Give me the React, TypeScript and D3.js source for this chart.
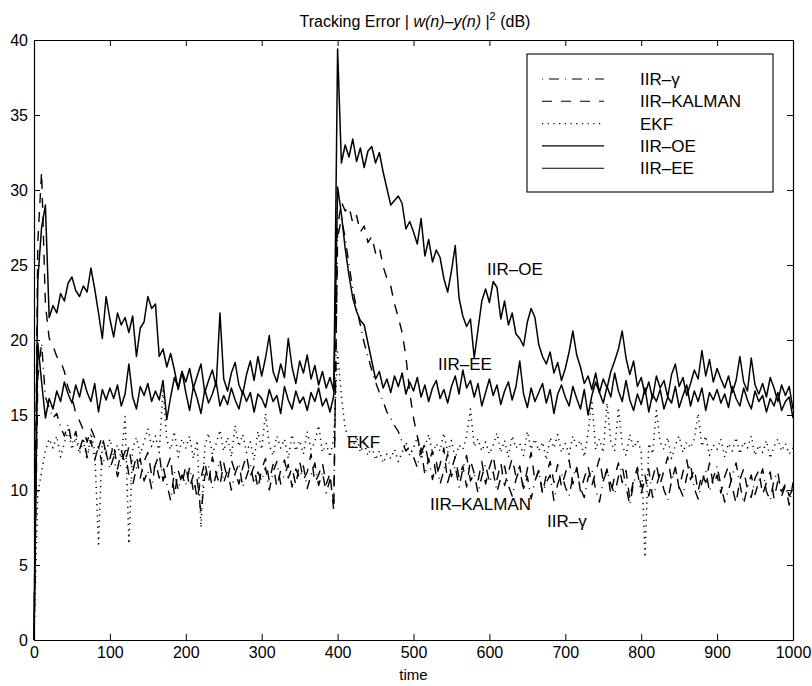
import React, { useEffect, useRef } from 'react';
import * as d3 from 'd3';

// sample times (every 5 steps)
const times = d3.range(0, 1001, 5);
const xTicks = [0, 100, 200, 300, 400, 500, 600, 700, 800, 900, 1000];
const yTicks = [0, 5, 10, 15, 20, 25, 30, 35, 40];

// values, one per sample time
const iirOE = [
  0, 24.0, 27.5, 29.0, 21.5, 22.3, 21.8, 23.1, 22.6, 23.8, 24.2, 23.3, 22.9, 23.6, 23.2, 24.8, 23.4, 21.8, 20.1, 22.9,
  21.4, 20.2, 21.8, 21.0, 21.5, 20.5, 21.6, 18.9, 20.8, 21.2, 22.9, 22.1, 22.4, 18.9, 19.4, 18.2, 19.1, 18.0, 16.7, 17.9,
  17.2, 18.1, 16.8, 17.6, 18.4, 16.5, 17.3, 18.0, 16.9, 21.8, 17.4, 16.6, 17.8, 18.5, 17.0, 16.4, 17.7, 18.6, 17.3, 18.9,
  17.6, 18.8, 20.3, 17.9, 17.2, 18.4, 17.5, 20.1, 18.2, 17.1, 18.6, 17.8, 19.0, 17.4, 18.3, 17.0, 17.9, 16.8, 17.5, 16.6,
  39.4, 31.8, 33.0, 32.2, 33.4, 31.9, 32.8, 31.5, 32.6, 32.9, 31.8, 32.5, 31.2, 30.1, 29.0, 29.3, 29.6, 29.1, 27.4, 27.9,
  27.2, 26.4, 28.1, 25.6, 26.7, 25.2, 26.0, 25.5, 24.1, 23.2, 24.6, 26.3, 22.8, 21.6, 20.9, 21.4, 18.8, 20.7, 22.6, 23.4,
  22.5, 23.9, 23.5, 21.4, 22.6, 21.0, 21.8, 20.4, 20.1, 19.6, 21.2, 22.1, 21.5, 19.7, 18.9, 18.4, 19.2, 17.8, 18.5, 17.3,
  18.1, 19.2, 20.6, 19.0, 18.2, 17.1, 17.6, 16.7, 17.8, 16.5, 17.4, 16.8, 17.9, 18.6, 19.4, 20.6, 18.8, 17.7, 18.6, 16.9,
  17.5, 16.4, 17.2, 16.1, 17.6, 16.8, 17.3, 16.2, 17.7, 18.4, 16.9, 17.5, 16.3, 17.1, 18.0, 17.4, 19.3, 17.6, 18.7, 17.2,
  18.1, 17.4, 16.8, 17.6, 16.5, 17.3, 18.9, 17.2, 16.6, 18.8, 17.0, 16.4, 17.1, 16.2, 17.5, 16.8, 15.9, 17.0, 16.3, 16.9, 15.4,
];

const iirEE = [
  0, 19.8, 17.2, 14.8, 16.1, 15.4, 16.6, 15.9, 17.2, 16.4, 15.8, 17.0, 16.2, 17.4, 16.5, 15.9, 17.1, 15.2, 16.7, 16.0,
  16.8, 16.1, 17.0, 15.6, 16.4, 18.4, 16.2, 15.4, 16.9, 16.3, 17.1, 15.9, 16.6, 16.0, 17.3, 14.7, 16.2, 17.5, 16.8, 17.9,
  16.5, 15.3, 16.9, 16.1, 15.1, 16.7, 15.8, 16.4, 17.2, 15.6, 16.3, 15.7, 16.8, 16.0, 15.4, 16.6, 15.9, 16.5, 15.2, 16.4,
  16.1, 15.5, 16.7, 15.9, 16.3, 15.1, 16.9, 16.0, 15.4, 16.6, 15.8, 16.2, 15.3, 16.5, 15.9, 16.8, 15.6, 16.1, 15.2, 16.3,
  30.2, 28.4, 26.1, 24.3, 22.8, 21.9, 21.3, 21.0, 19.8, 18.6, 17.4, 17.9, 16.8, 17.4, 16.5, 17.6, 16.9, 17.8, 16.4, 17.2,
  16.6, 17.5, 16.2, 17.0, 15.9, 16.8, 17.3, 16.1, 16.7, 15.8, 16.9, 17.6, 16.4, 18.0, 16.8, 17.3, 16.2, 17.1, 15.6, 16.5,
  17.4, 16.3, 17.0, 15.7, 16.6, 17.2, 16.0, 16.9, 18.6, 16.4, 15.5, 16.8, 15.9, 16.5, 17.1, 15.8, 16.7, 15.1, 16.4, 17.0,
  16.2, 15.6, 16.9, 16.1, 15.4, 16.7, 15.0, 16.3, 17.2, 16.5, 15.8, 16.9, 16.2, 17.8, 16.6, 15.9, 17.3, 16.0, 15.3, 16.4,
  15.7, 16.8, 15.2, 16.4, 15.9, 16.7, 15.4, 16.2, 15.8, 16.9, 15.5, 16.3, 17.0, 15.6, 16.6, 15.9, 16.8, 15.3, 16.5, 16.0,
  16.7, 15.8, 16.4, 15.5, 16.9, 16.1, 15.6, 16.8, 16.0, 15.4, 16.6, 15.9, 16.3, 15.2, 16.1, 15.6, 16.5, 15.3, 15.9, 16.2, 14.8,
];

const iirKalman = [
  0, 26.5, 31.2, 22.4, 20.1, 19.6, 18.9, 18.6, 17.9, 16.8, 16.2, 15.1, 14.6, 14.0, 13.2, 14.1, 13.5, 12.8, 13.6, 12.4,
  12.1, 13.0, 11.4, 12.6, 11.8, 12.9, 11.2, 12.3, 10.8, 11.9, 12.5, 11.0, 11.7, 12.4, 10.6, 11.5, 12.2, 9.6, 11.3, 10.4,
  11.6, 10.2, 11.0, 9.4, 10.8, 11.9, 10.5, 12.2, 11.1, 10.3, 11.8, 10.7, 12.0, 11.2, 10.4, 11.5, 12.3, 10.9, 11.6, 10.1,
  11.4, 12.1, 10.6, 11.7, 10.2, 11.3, 12.0, 10.8, 11.5, 10.3, 11.9, 10.7, 11.2, 12.4, 10.5, 11.0, 11.8, 10.4, 11.1, 8.6,
  27.5, 29.2, 28.6, 28.9, 27.8, 28.3, 27.2, 27.6, 26.5, 26.9, 25.8, 26.2, 24.9, 24.1, 23.6, 22.4, 21.5, 20.5, 18.9, 16.5,
  14.8, 13.6, 12.4, 13.1, 11.8, 12.6, 10.9, 11.7, 12.8, 10.5, 11.4, 12.2, 10.8, 11.6, 10.2, 12.0, 11.1, 10.6, 11.9, 10.4,
  11.5, 12.3, 10.7, 11.8, 10.3, 11.2, 12.1, 10.9, 11.6, 10.1, 11.4, 12.5, 10.6, 11.3, 9.8, 11.0, 11.9, 10.5, 11.7, 10.2,
  11.1, 12.0, 10.4, 11.5, 9.9, 10.8, 11.6, 10.3, 11.2, 12.1, 10.6, 11.4, 9.7, 10.9, 11.8, 10.5, 11.3, 9.4, 10.7, 11.5,
  10.2, 11.0, 9.6, 10.8, 11.7, 10.4, 11.3, 12.2, 10.6, 11.5, 10.1, 11.2, 12.0, 10.7, 11.4, 9.9, 11.1, 10.5, 11.8, 10.3,
  11.0, 9.8, 10.9, 11.6, 10.2, 9.1, 10.7, 11.4, 10.0, 9.5, 10.8, 11.3, 9.7, 10.5, 11.2, 9.4, 10.6, 9.9, 10.4, 9.6, 10.1,
];

const iirGamma = [
  0, 17.5, 19.8, 16.2, 15.5, 14.8, 15.1, 14.2, 13.6, 14.4, 13.1, 13.9, 12.7, 13.5, 12.2, 13.3, 12.0, 12.9, 11.6, 12.5,
  11.4, 12.2, 10.9, 11.8, 12.6, 11.0, 10.3, 11.5, 12.1, 10.6, 11.3, 10.1, 11.9, 10.8, 11.6, 10.4, 9.3, 11.2, 10.0, 11.0,
  10.3, 11.5, 9.9, 10.7, 8.4, 10.9, 11.6, 10.1, 11.0, 12.0, 10.5, 11.3, 10.0, 11.1, 11.8, 10.2, 10.9, 11.7, 10.4, 11.2,
  10.6, 11.5, 10.0, 11.2, 11.9, 10.4, 11.0, 11.7, 10.2, 11.4, 10.8, 11.6, 10.1, 11.0, 11.8, 10.3, 11.2, 9.8, 10.7, 9.2,
  26.8, 28.1, 26.8, 25.0, 23.4, 22.1, 21.0, 19.8, 18.9, 18.0, 17.2, 16.5, 15.9, 15.2, 14.8, 14.3, 13.9, 13.2, 12.6, 12.9,
  12.2, 11.5, 12.8, 11.0, 12.1, 10.7, 11.9, 10.4, 11.3, 12.4, 10.9, 11.6, 10.2, 11.4, 12.3, 10.6, 11.1, 9.8, 10.9, 11.7,
  10.5, 11.2, 9.9, 10.8, 11.6, 10.3, 9.6, 10.7, 11.4, 10.0, 10.9, 9.4, 10.6, 11.3, 9.8, 10.5, 11.0, 9.3, 10.4, 11.1,
  10.2, 9.6, 10.9, 11.5, 10.1, 9.5, 10.8, 11.4, 10.0, 9.2, 10.6, 11.3, 10.4, 9.7, 10.9, 11.6, 10.2, 9.0, 10.5, 11.2,
  9.8, 10.7, 11.4, 9.5, 10.3, 11.1, 10.0, 9.3, 10.6, 11.5, 10.2, 9.6, 10.9, 11.7, 10.1, 9.4, 10.5, 11.3, 9.9, 10.8,
  11.6, 10.3, 9.2, 10.0, 10.9, 11.8, 10.4, 9.1, 10.2, 11.0, 9.7, 10.6, 11.4, 9.9, 9.3, 10.7, 11.2, 9.6, 10.3, 9.0, 10.5,
];

const ekf = [
  0, 9.8, 11.2, 12.6, 13.4, 12.8, 13.6, 12.2, 13.1, 14.0, 12.7, 13.5, 12.4, 13.3, 12.0, 13.8, 12.6, 6.4, 13.2, 12.5,
  13.4, 12.3, 13.0, 12.1, 14.9, 6.4, 12.8, 13.5, 12.4, 13.2, 14.1, 12.9, 13.6, 12.5, 16.8, 13.3, 12.7, 13.9, 12.2, 13.4,
  12.8, 13.6, 12.1, 13.3, 7.5, 12.9, 13.8, 12.4, 13.1, 14.0, 12.6, 13.5, 12.2, 14.3, 12.9, 13.7, 12.5, 13.2, 12.0, 13.9,
  12.7, 15.1, 13.0, 12.3, 13.6, 12.8, 13.4, 12.1, 13.7, 12.6, 13.3, 12.4, 13.9, 12.7, 13.2, 14.3, 12.5, 13.1, 12.2, 13.5,
  19.2, 16.3, 14.1, 13.4, 12.8, 13.6, 12.5, 13.1, 12.3, 12.9, 12.0, 12.6, 11.8, 12.4, 12.1, 12.7, 11.9, 12.5, 13.2, 12.3,
  12.8, 13.5, 12.2, 12.9, 13.7, 12.4, 13.1, 12.6, 13.8, 12.5, 13.3, 12.1, 13.0, 12.7, 13.6, 15.4, 12.9, 13.4, 12.6, 13.2,
  12.4, 13.0, 13.8, 12.5, 13.3, 12.2, 13.6, 12.8, 13.1, 12.3, 13.9, 12.7, 13.4, 12.6, 13.2, 12.0, 13.5, 12.8, 13.7, 12.5,
  13.1, 12.4, 13.6, 12.9, 13.3, 12.2, 13.8, 16.0, 12.7, 13.4, 12.5, 15.8, 13.2, 12.6, 15.5, 13.0, 12.3, 13.7, 12.8, 13.3,
  12.6, 5.5, 13.1, 12.4, 15.3, 13.2, 12.7, 13.5, 12.1, 13.0, 13.6, 12.5, 13.2, 12.8, 13.4, 15.1, 12.9, 13.6, 12.3, 13.0,
  12.7, 13.4, 12.2, 13.1, 12.6, 13.5, 12.4, 13.2, 12.8, 13.6, 12.3, 13.0, 12.5, 13.3, 12.1, 12.9, 13.4, 12.6, 13.1, 12.4, 12.8,
];

const legendLabels = ['IIR\u2013\u03b3', 'IIR\u2013KALMAN', 'EKF', 'IIR\u2013OE', 'IIR\u2013EE'];
const dashes = ['1,6,10,6', '10,9', '1.2,4.5', null, null];
const widths = [1.4, 1.4, 1.5, 1.5, 1.5];

export default function App() {
  const ref = useRef<SVGSVGElement>(null);

  useEffect(() => {
    const svg = d3.select(ref.current);
    svg.selectAll('*').remove();

    const left = 34, right = 793, top = 40, bottom = 640;
    const x = d3.scaleLinear().domain([0, 1000]).range([left, right]);
    const y = d3.scaleLinear().domain([0, 40]).range([bottom, top]);
    const font = 'Liberation Sans, Arial, Helvetica, sans-serif';

    const line = d3.line<number>()
      .x((d, i) => x(times[i]))
      .y(d => y(d));

    const series = [iirGamma, iirKalman, ekf, iirOE, iirEE];
    series.forEach((s, k) => {
      const p = svg.append('path')
        .datum(s)
        .attr('d', line)
        .attr('fill', 'none')
        .attr('stroke', '#000')
        .attr('stroke-linejoin', 'round')
        .attr('stroke-width', widths[k]);
      if (dashes[k]) p.attr('stroke-dasharray', dashes[k] as string);
    });

    const styleAxis = (g: any) => {
      g.attr('font-size', 16).attr('font-family', font);
      g.select('.domain').attr('stroke-width', 1.2);
      g.selectAll('.tick line').attr('stroke-width', 1);
    };

    svg.append('g')
      .attr('transform', `translate(0,${bottom})`)
      .call(d3.axisBottom(x).tickValues(xTicks).tickSize(-6).tickSizeOuter(0).tickPadding(7).tickFormat(d3.format('d')))
      .call(styleAxis);
    svg.append('g')
      .attr('transform', `translate(0,${top})`)
      .call(d3.axisTop(x).tickValues(xTicks).tickSize(-6).tickSizeOuter(0).tickFormat(() => ''))
      .call(styleAxis);
    svg.append('g')
      .attr('transform', `translate(${left},0)`)
      .call(d3.axisLeft(y).tickValues(yTicks).tickSize(-6).tickSizeOuter(0).tickPadding(6))
      .call(styleAxis);
    svg.append('g')
      .attr('transform', `translate(${right},0)`)
      .call(d3.axisRight(y).tickValues(yTicks).tickSize(-6).tickSizeOuter(0).tickFormat(() => ''))
      .call(styleAxis);

    // legend
    const lg = svg.append('g');
    lg.append('rect')
      .attr('x', 527).attr('y', 54).attr('width', 246).attr('height', 138)
      .attr('fill', '#fff').attr('stroke', '#000').attr('stroke-width', 1.1);
    legendLabels.forEach((name, k) => {
      const ry = 79 + k * 22.3;
      const l = lg.append('line')
        .attr('x1', 542).attr('x2', 604).attr('y1', ry).attr('y2', ry)
        .attr('stroke', '#000').attr('stroke-width', 1.1);
      if (dashes[k]) l.attr('stroke-dasharray', dashes[k] as string);
      lg.append('text')
        .attr('x', 640).attr('y', ry + 6)
        .attr('font-size', 17).attr('font-family', font)
        .text(name);
    });

    // curve annotations
    const notes: [string, number, number][] = [
      ['IIR\u2013OE', 487, 275],
      ['IIR\u2013EE', 438, 370],
      ['EKF', 347, 448],
      ['IIR\u2013KALMAN', 430, 510],
      ['IIR\u2013\u03b3', 547, 527],
    ];
    notes.forEach(([t, nx, ny]) => {
      svg.append('text')
        .attr('x', nx).attr('y', ny)
        .attr('font-size', 17).attr('font-family', font)
        .text(t);
    });

    // x label
    svg.append('text')
      .attr('x', (left + right) / 2).attr('y', 680)
      .attr('text-anchor', 'middle')
      .attr('font-size', 15).attr('font-family', font)
      .text('time');

    // title
    const title = svg.append('text')
      .attr('x', 415).attr('y', 27)
      .attr('text-anchor', 'middle')
      .attr('font-size', 16).attr('font-family', font);
    title.append('tspan').text('Tracking Error | ');
    title.append('tspan').attr('font-style', 'italic').text('w(n)');
    title.append('tspan').text('\u2013');
    title.append('tspan').attr('font-style', 'italic').text('y(n)');
    title.append('tspan').text(' |');
    title.append('tspan').attr('dy', -7).attr('font-size', 11).text('2');
    title.append('tspan').attr('dy', 7).text(' (dB)');
  }, []);

  return (
    <svg
      ref={ref}
      width={812}
      height={686}
      style={{ position: 'absolute', left: 0, top: 0, background: '#fff' }}
    />
  );
}
